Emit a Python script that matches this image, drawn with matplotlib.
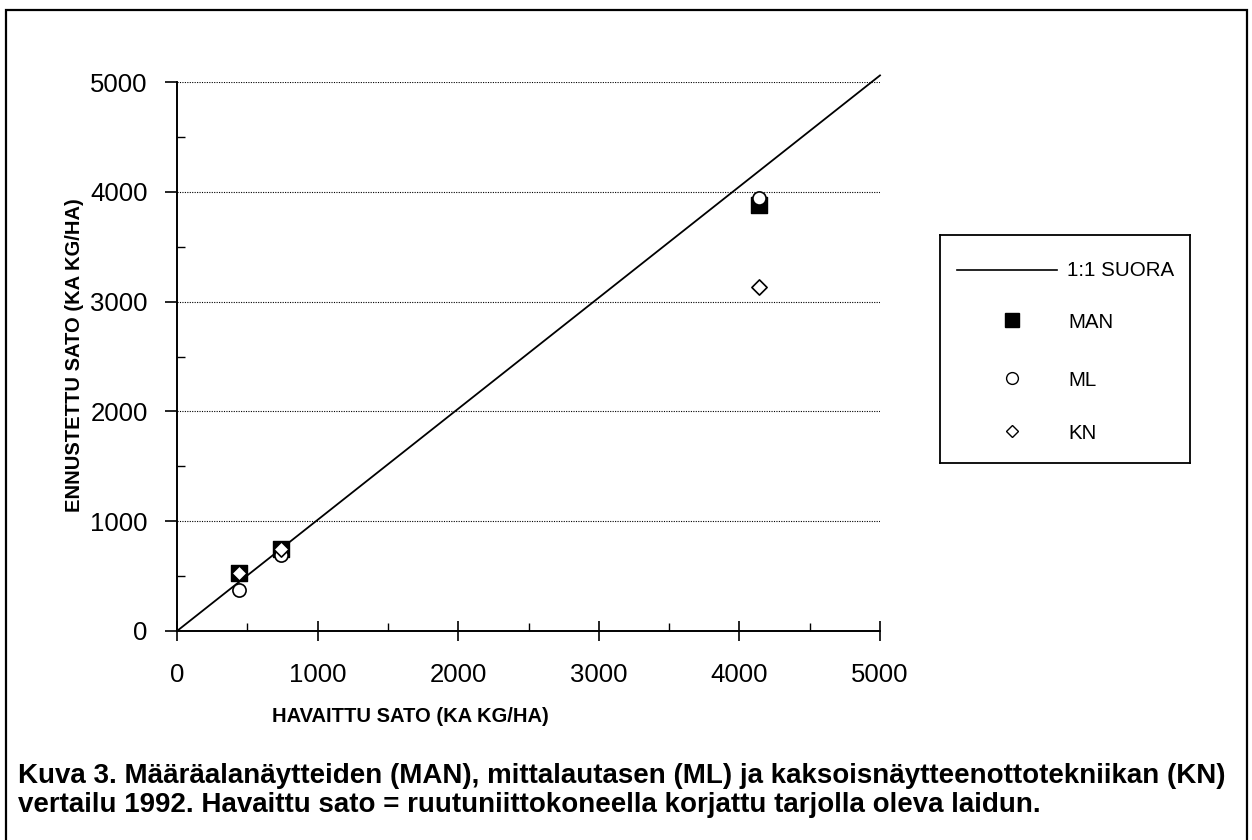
import matplotlib
matplotlib.use('Agg')
import matplotlib.pyplot as plt
from matplotlib.lines import Line2D
from matplotlib.patches import Rectangle
from matplotlib.ticker import MultipleLocator

plt.rcParams['font.family'] = ['Liberation Sans', 'DejaVu Sans']

# ── data (kg ka/ha) ─────────────────────────────────────────────
havaittu = [440, 740, 4140]
man = [530, 750, 3880]
ml = [370, 695, 3945]
kn = [530, 750, 3130]
one_to_one = [0, 5000]

fig = plt.figure(figsize=(12.52, 8.4), dpi=100)

# outer frame of the scanned page
fig.add_artist(Rectangle((6 / 1252, -0.05), 1241 / 1252, 1.05 - 10 / 840,
                         transform=fig.transFigure, fill=False,
                         edgecolor='black', linewidth=1.6))

ax = fig.add_axes([177 / 1252, 1 - 631 / 840, 703 / 1252, 549 / 840])
ax.set_xlim(0, 5000)
ax.set_ylim(0, 5000)

# dotted grid at 1000..5000
for g in [1000, 2000, 3000, 4000, 5000]:
    ax.plot([0, 5000], [g, g], color='black', linestyle=(0, (1, 1.2)),
            linewidth=0.8, zorder=1)

ax.plot(one_to_one, [0, 5060], color='black', linewidth=1.3, zorder=2,
        clip_on=False)
ax.scatter(havaittu, man, marker='s', s=120, color='black', zorder=3)
ax.scatter(havaittu, ml, marker='o', s=90, facecolor='white',
           edgecolor='black', linewidth=1.2, zorder=4)
ax.scatter(havaittu, kn, marker='D', s=60, facecolor='white',
           edgecolor='black', linewidth=1.2, zorder=5)

for s in ['top', 'right']:
    ax.spines[s].set_visible(False)
for s in ['left', 'bottom']:
    ax.spines[s].set_linewidth(1.4)

ax.xaxis.set_major_locator(MultipleLocator(1000))
ax.yaxis.set_major_locator(MultipleLocator(1000))
ax.xaxis.set_minor_locator(MultipleLocator(500))
ax.yaxis.set_minor_locator(MultipleLocator(500))
ax.tick_params(which='major', width=1.2, labelsize=18.5)
ax.tick_params(which='minor', direction='in', length=6, width=1)
ax.tick_params(axis='x', which='major', direction='inout', length=14, pad=16)
ax.tick_params(axis='y', which='major', direction='out', length=9, pad=12)

fig.text(410 / 1252, 1 - 717 / 840, 'HAVAITTU SATO (KA KG/HA)',
         ha='center', va='center', fontsize=14.5, fontweight='bold')
fig.text(75 / 1252, 1 - 355 / 840, 'ENNUSTETTU SATO (KA KG/HA)',
         ha='center', va='center', rotation=90, fontsize=14.5,
         fontweight='bold')

# legend box drawn by hand like the original
lg = fig.add_axes([940 / 1252, 1 - 463 / 840, 250 / 1252, 228 / 840])
lg.set_xlim(0, 250)
lg.set_ylim(228, 0)
lg.set_xticks([])
lg.set_yticks([])
for s in lg.spines.values():
    s.set_linewidth(1.3)
lg.add_line(Line2D([17, 117], [35, 35], color='black', linewidth=1.2))
lg.plot([72], [85], marker='s', markersize=10, color='black')
lg.plot([72], [143], marker='o', markersize=8.5, markerfacecolor='white',
        markeredgecolor='black')
lg.plot([72], [196], marker='D', markersize=6.5, markerfacecolor='white',
        markeredgecolor='black')
labels = ['1:1 SUORA', 'MAN', 'ML', 'KN']
label_x = [127, 128, 128, 128]
for y, t, x in zip([35, 87, 145, 198], labels, label_x):
    lg.text(x, y, t, ha='left', va='center', fontsize=14.8)

fig.text(18 / 1252, 1 - 776 / 840,
         'Kuva 3. Määräalanäytteiden (MAN), mittalautasen (ML) ja '
         'kaksoisnäytteenottotekniikan (KN)',
         ha='left', va='center', fontsize=20, fontweight='bold')
fig.text(18 / 1252, 1 - 805 / 840,
         'vertailu 1992. Havaittu sato = ruutuniittokoneella korjattu '
         'tarjolla oleva laidun.',
         ha='left', va='center', fontsize=20, fontweight='bold')

fig.savefig('out.png', dpi=100)
